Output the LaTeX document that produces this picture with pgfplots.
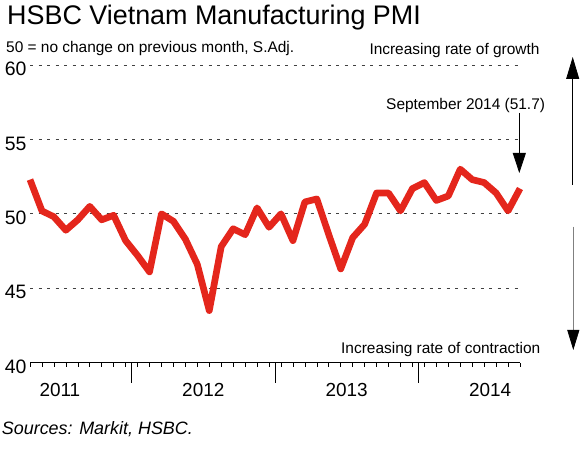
\documentclass[border=0pt]{standalone}
\usepackage{fontspec}
\setmainfont{Liberation Sans}
\usepackage{pgfplots}
\pgfplotsset{compat=1.18}
\usetikzlibrary{arrows.meta}
\definecolor{pmired}{RGB}{228,38,28}
\begin{document}
\begin{tikzpicture}[x=1bp,y=1bp]
\useasboundingbox (0,0) rectangle (581,450);
\begin{axis}[
 at={(30bp,87.3bp)}, anchor=south west,
 scale only axis, width=490bp, height=297.7bp,
 xmin=0, xmax=41, ymin=40, ymax=60,
 clip=false,
 axis x line=bottom, axis y line=left,
 axis line style={-},
 y axis line style={draw=none},
 x axis line style={black, line width=0.8bp},
 /pgf/number format/assume math mode=true,
 ytick={40,45,50,55,60},
 y tick style={draw=none},
 ymajorgrids,
 major grid style={dash pattern=on 3bp off 5.5bp, black!75, line width=0.7bp},
 extra y ticks={50}, extra y tick labels={},
 extra y tick style={grid style={solid, black!45, line width=1bp}, tick style={draw=none}},
 yticklabel style={font=\fontsize{19.5}{19.5}\selectfont, yshift=-4bp},
 xtick={2.5,14.5,26.5,38.5},
 xticklabels={2011,2012,2013,2014},
 minor xtick={0,...,41},
 tick align=outside,
 major tick length=0bp, minor tick length=4bp,
 x tick style={black, line width=0.6bp},
 extra x ticks={8.5,20.5,32.5}, extra x tick labels={},
 extra x tick style={major tick length=20bp, tick style={black!80, line width=0.8bp}},
 xticklabel style={font=\fontsize{19}{19}\selectfont, yshift=-17bp},
]
\addplot[pmired, line width=6.7bp, line join=round, mark=none] table {
x y
0 52.3
1 50.2
2 49.8
3 48.9
4 49.6
5 50.5
6 49.6
7 49.9
8 48.2
9 47.2
10 46.1
11 50.0
12 49.5
13 48.3
14 46.6
15 43.5
16 47.8
17 49.0
18 48.6
19 50.4
20 49.1
21 50.0
22 48.2
23 50.8
24 51.0
25 48.6
26 46.3
27 48.4
28 49.3
29 51.4
30 51.4
31 50.2
32 51.7
33 52.1
34 50.9
35 51.2
36 53.0
37 52.3
38 52.1
39 51.4
40 50.2
41 51.7
};
\end{axis}
\node[anchor=base west, inner sep=0, font=\fontsize{27}{27}\selectfont] at (7,425) {HSBC Vietnam Manufacturing PMI};
\node[anchor=base west, inner sep=0, font=\fontsize{15.5}{15.5}\selectfont] at (6,397.3) {50 = no change on previous month, S.Adj.};
\node[anchor=base west, inner sep=0, font=\fontsize{15.5}{15.5}\selectfont] at (369.3,395) {Increasing rate of growth};
\node[anchor=base west, inner sep=0, font=\fontsize{15.5}{15.5}\selectfont] at (386,340.7) {September 2014 (51.7)};
\node[anchor=base west, inner sep=0, font=\fontsize{15.5}{15.5}\selectfont] at (341,96.7) {Increasing rate of contraction};
\node[anchor=base west, inner sep=0, font=\fontsize{18}{18}\selectfont\itshape] at (1.7,15) {Sources: Markit, HSBC.};
\draw[-{Triangle[width=13bp,length=20bp]}, line width=0.8bp] (519.3,337) -- (519.3,277);
\draw[-{Triangle[width=13bp,length=22bp]}, line width=0.8bp] (572.7,265) -- (572.7,393);
\draw[-{Triangle[width=12bp,length=20bp,black]}, black!50, line width=0.8bp] (573.3,223.3) -- (573.3,100);
\end{tikzpicture}
\end{document}
